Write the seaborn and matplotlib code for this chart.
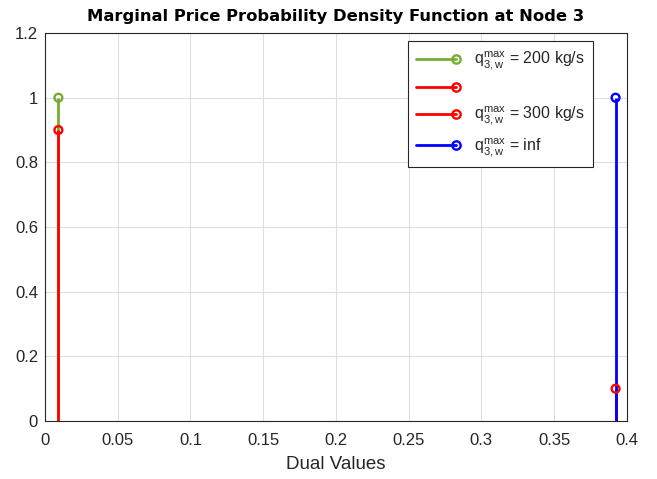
import matplotlib
matplotlib.use("Agg")
import matplotlib.pyplot as plt
from matplotlib.lines import Line2D
import seaborn as sns
import pandas as pd

# Data
series_labels = [r"$\mathrm{q}^{\mathrm{max}}_{\mathrm{3,w}}$ = 200 kg/s", " ",
                 r"$\mathrm{q}^{\mathrm{max}}_{\mathrm{3,w}}$ = 300 kg/s",
                 r"$\mathrm{q}^{\mathrm{max}}_{\mathrm{3,w}}$ = inf"]
dual_values = [0.0092, 0.0092, 0.3923, 0.3923]
densities = [1.0, 0.9, 0.1, 1.0]
colors = ["#77AC30", "#FF0000", "#FF0000", "#0000FF"]
x_ticks = [0, 0.05, 0.1, 0.15, 0.2, 0.25, 0.3, 0.35, 0.4]
x_tick_labels = ["0", "0.05", "0.1", "0.15", "0.2", "0.25", "0.3", "0.35", "0.4"]
y_ticks = [0, 0.2, 0.4, 0.6, 0.8, 1.0, 1.2]
y_tick_labels = ["0", "0.2", "0.4", "0.6", "0.8", "1", "1.2"]

sns.set_style("whitegrid")
plt.rcParams['font.family'] = ['Liberation Sans', 'DejaVu Sans']
plt.rcParams['mathtext.fontset'] = 'custom'
plt.rcParams['mathtext.rm'] = 'Liberation Sans'
plt.rcParams['mathtext.it'] = 'Liberation Sans'

df = pd.DataFrame({"x": dual_values, "y": densities, "s": list(range(4))})

fig = plt.figure(figsize=(6.57, 4.79), dpi=100)
ax = fig.add_axes([0.0685, 0.121, 0.8855, 0.81])

for i in range(4):
    ax.vlines(dual_values[i], 0, densities[i], color=colors[i], lw=2, zorder=2 + i)
    sns.scatterplot(data=df.iloc[[i]], x="x", y="y", ax=ax, marker="o", s=32,
                    facecolor="none", edgecolor=colors[i], linewidth=1.7,
                    zorder=10 + i, legend=False)

ax.set_xlim(0, 0.4)
ax.set_ylim(0, 1.2)
ax.set_xticks(x_ticks)
ax.set_xticklabels(x_tick_labels)
ax.set_yticks(y_ticks)
ax.set_yticklabels(y_tick_labels)
ax.tick_params(labelsize=12, direction="in", length=4, color="#262626", colors="#262626")
ax.tick_params(axis="x", pad=8.5)
ax.tick_params(axis="y", pad=5)
ax.set_xlabel("Dual Values", fontsize=13.5, color="#262626", labelpad=6)
ax.set_ylabel("")
ax.set_title("Marginal Price Probability Density Function at Node 3",
             fontsize=11.8, fontweight="bold", pad=9, color="black",
             family="DejaVu Sans")
ax.grid(True, color="#DFDFDF", lw=0.8)
for sp in ax.spines.values():
    sp.set_visible(True)
    sp.set_color("#262626")
    sp.set_linewidth(0.8)


class StemHandler:
    def legend_artist(self, legend, orig_handle, fontsize, handlebox):
        x0, y0 = handlebox.xdescent, handlebox.ydescent
        w, h = handlebox.width, handlebox.height
        c = orig_handle.get_color()
        ln = Line2D([x0, x0 + w], [y0 + h / 2, y0 + h / 2], color=c, lw=2,
                    transform=handlebox.get_transform())
        mk = Line2D([x0 + w], [y0 + h / 2], color=c, marker="o", mfc="none",
                    mec=c, mew=1.7, ms=6, lw=0,
                    transform=handlebox.get_transform())
        handlebox.add_artist(ln)
        handlebox.add_artist(mk)
        return ln


handles = [Line2D([], [], color=c) for c in colors]
leg = ax.legend(handles, series_labels, loc="upper right",
                bbox_to_anchor=(0.955, 0.999), fontsize=11.5,
                handler_map={Line2D: StemHandler()}, frameon=True, fancybox=False,
                edgecolor="#262626", framealpha=1, handlelength=2.5,
                labelspacing=0.55, borderpad=0.5, handletextpad=1.1)
leg.get_frame().set_linewidth(0.8)

fig.savefig("out.png", dpi=100)
